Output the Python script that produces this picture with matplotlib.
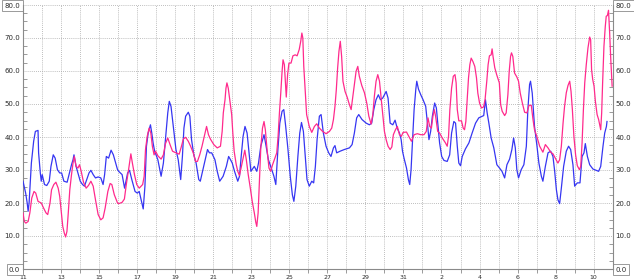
import matplotlib
matplotlib.use("Agg")
import matplotlib.pyplot as plt
from matplotlib.ticker import MultipleLocator, FixedLocator

# ---- data (x = days since Oct 11, 00:00) ----
blue_day = [0.00, 0.14, 0.22, 0.27, 0.32, 0.44, 0.56, 0.65, 0.79, 0.82, 0.91, 0.96, 1.01, 1.13, 1.25,
            1.38, 1.47, 1.59, 1.69, 1.81, 1.93, 2.03, 2.15, 2.32, 2.44, 2.55, 2.63, 2.68, 2.79, 2.89,
            3.01, 3.13, 3.23, 3.35, 3.47, 3.57, 3.69, 3.81, 3.95, 4.09, 4.21, 4.29, 4.38, 4.50, 4.63,
            4.75, 4.85, 4.97, 5.03, 5.21, 5.34, 5.50, 5.60, 5.72, 5.89, 6.01, 6.11, 6.23, 6.32, 6.41,
            6.49, 6.58, 6.70, 6.77, 6.84, 6.92, 7.09, 7.26, 7.38, 7.52, 7.61, 7.69, 7.78, 7.90, 8.04,
            8.16, 8.29, 8.38, 8.46, 8.55, 8.69, 8.77, 8.86, 8.98, 9.10, 9.24, 9.32, 9.44, 9.58, 9.70,
            9.80, 9.92, 10.09, 10.21, 10.34, 10.52, 10.69, 10.81, 10.91, 11.00, 11.12, 11.29, 11.38,
            11.47, 11.57, 11.67, 11.78, 11.90, 11.98, 12.16, 12.29, 12.38, 12.50, 12.67, 12.78, 12.90,
            13.05, 13.19, 13.29, 13.40, 13.50, 13.62, 13.71, 13.81, 13.93, 14.05, 14.16, 14.24, 14.34,
            14.45, 14.55, 14.64, 14.74, 14.84, 14.93, 15.05, 15.18, 15.28, 15.37, 15.46, 15.58, 15.67,
            15.79, 15.93, 16.07, 16.19, 16.32, 16.40, 16.49, 16.67, 16.89, 17.16, 17.30, 17.42, 17.54,
            17.65, 17.82, 18.04, 18.21, 18.33, 18.44, 18.56, 18.68, 18.79, 18.91, 19.00, 19.09, 19.19,
            19.30, 19.44, 19.56, 19.67, 19.79, 19.88, 19.95, 20.03, 20.16, 20.26, 20.33, 20.40, 20.47,
            20.56, 20.65, 20.70, 20.79, 20.91, 21.03, 21.17, 21.26, 21.34, 21.43, 21.52, 21.64, 21.73,
            21.82, 21.90, 22.01, 22.13, 22.30, 22.43, 22.53, 22.65, 22.74, 22.83, 22.91, 23.00, 23.09,
            23.26, 23.44, 23.61, 23.79, 23.96, 24.14, 24.22, 24.31, 24.40, 24.49, 24.61, 24.75, 24.91,
            25.05, 25.18, 25.32, 25.44, 25.58, 25.70, 25.79, 25.88, 25.96, 26.05, 26.19, 26.33, 26.46,
            26.54, 26.63, 26.68, 26.77, 26.89, 27.02, 27.12, 27.25, 27.33, 27.46, 27.60, 27.74, 27.86,
            27.95, 28.04, 28.12, 28.21, 28.30, 28.42, 28.56, 28.68, 28.79, 28.91, 29.00, 29.14, 29.28,
            29.39, 29.49, 29.56, 29.67, 29.79, 29.96, 30.14, 30.26, 30.37, 30.49, 30.58, 30.67, 30.70]
blue_val = [26.6, 23.0, 20.0, 17.5, 20.0, 32.1, 38.7, 41.7, 42.0, 35.2, 29.1, 26.6, 28.6, 25.6, 25.3,
            26.6, 31.1, 34.6, 33.6, 30.1, 29.1, 29.1, 26.6, 26.3, 29.1, 31.6, 33.1, 34.6, 31.1, 29.1,
            26.6, 25.6, 25.1, 27.1, 29.1, 29.9, 28.6, 27.6, 27.9, 27.6, 25.6, 28.6, 34.1, 33.6, 36.0,
            34.6, 32.6, 30.1, 29.6, 28.6, 24.5, 29.1, 29.9, 27.1, 23.5, 23.0, 23.5, 20.5, 18.2, 25.1,
            37.2, 41.2, 43.7, 41.2, 38.2, 35.7, 33.1, 28.1, 32.1, 41.2, 47.3, 50.8, 49.3, 43.2, 36.2,
            33.1, 27.1, 34.1, 42.7, 46.3, 47.5, 46.3, 39.2, 34.6, 32.1, 27.1, 26.6, 29.6, 33.1, 36.2,
            35.2, 35.2, 33.1, 29.6, 26.6, 28.1, 31.1, 34.1, 33.1, 32.1, 29.6, 26.6, 28.1,
            34.1, 40.2, 43.2, 41.2, 34.1, 29.6, 31.1, 29.6, 32.1, 37.2, 40.7, 37.2, 33.1,
            30.6, 28.1, 25.6, 36.2, 44.2, 47.8, 48.3, 43.2, 36.2, 28.1, 22.5, 20.5, 25.1,
            34.1, 41.2, 44.4, 41.7, 34.1, 27.1, 25.1, 26.6, 26.1, 31.1, 39.2, 46.3, 46.8,
            41.2, 37.2, 35.2, 34.1, 36.7, 37.4, 35.2, 35.7, 36.2, 36.7, 37.7, 41.2, 45.8,
            46.8, 45.3, 44.2, 43.7, 44.2, 48.3, 51.3, 52.8, 51.3, 51.8, 52.8, 53.8, 51.8,
            44.2, 43.7, 45.1, 42.7, 41.2, 39.2, 35.7, 33.6, 30.6, 27.1, 25.6, 30.1, 38.2,
            48.3, 54.5, 56.9, 54.5, 52.8, 51.3, 49.3, 44.2, 39.2, 41.7, 46.3, 50.3, 48.8,
            43.2, 38.2, 34.1, 32.9, 32.6, 34.6, 41.2, 44.7, 44.2, 37.2, 32.1, 31.3, 34.1,
            36.4, 38.2, 41.2, 44.2, 45.8, 46.3, 46.5, 51.3, 47.3, 44.2, 39.7, 36.7, 31.6,
            30.6, 29.6, 27.6, 31.6, 33.3, 36.2, 39.7, 36.7, 30.1, 27.6, 30.1, 31.6, 37.2,
            48.3, 55.9, 56.9, 53.3, 43.2, 37.2, 32.1, 28.1, 26.6, 31.1, 35.2, 35.7, 34.1,
            29.6, 24.0, 21.0, 19.8, 24.5, 31.1, 35.7, 37.2, 36.2, 31.6, 25.1, 26.1, 26.1,
            34.1, 35.2, 38.0, 34.1, 31.6, 30.3, 29.9, 29.6, 31.1, 37.2, 41.2, 43.2, 44.7]

pink_day = [0.00, 0.07, 0.15, 0.27, 0.36, 0.46, 0.58, 0.67, 0.79, 0.96, 1.08, 1.21, 1.30, 1.42, 1.50,
            1.62, 1.73, 1.85, 1.93, 2.02, 2.09, 2.17, 2.24, 2.31, 2.38, 2.46, 2.55, 2.63, 2.70, 2.79,
            2.89, 2.97, 3.06, 3.18, 3.32, 3.44, 3.57, 3.69, 3.81, 3.95, 4.09, 4.21, 4.32, 4.46, 4.58,
            4.67, 4.80, 4.97, 5.03, 5.21, 5.33, 5.43, 5.55, 5.67, 5.75, 5.86, 5.98, 6.11, 6.29, 6.37,
            6.44, 6.53, 6.63, 6.72, 6.80, 6.89, 6.97, 7.09, 7.26, 7.38, 7.49, 7.61, 7.73, 7.86, 8.04,
            8.21, 8.33, 8.43, 8.55, 8.69, 8.81, 8.95, 9.07, 9.17, 9.29, 9.41, 9.53, 9.65, 9.75, 9.85,
            10.03, 10.21, 10.38, 10.47, 10.53, 10.62, 10.67, 10.72, 10.79, 10.88, 10.97, 11.03, 11.10,
            11.21, 11.29, 11.38, 11.48, 11.57, 11.66, 11.74, 11.84, 11.95, 12.05, 12.16, 12.24, 12.29,
            12.36, 12.43, 12.50, 12.59, 12.67, 12.74, 12.83, 12.93, 13.02, 13.12, 13.26, 13.34, 13.41,
            13.48, 13.55, 13.62, 13.67, 13.74, 13.79, 13.84, 13.91, 13.98, 14.09, 14.19, 14.31, 14.41,
            14.52, 14.60, 14.66, 14.71, 14.76, 14.83, 14.91, 15.05, 15.18, 15.32, 15.44, 15.58, 15.75,
            15.93, 16.11, 16.23, 16.32, 16.40, 16.47, 16.54, 16.61, 16.68, 16.75, 16.82, 16.93, 17.04,
            17.16, 17.25, 17.33, 17.42, 17.51, 17.60, 17.68, 17.81, 17.95, 18.07, 18.18, 18.30, 18.39,
            18.47, 18.56, 18.65, 18.74, 18.82, 18.91, 19.00, 19.09, 19.19, 19.30, 19.39, 19.47, 19.58,
            19.68, 19.79, 19.89, 19.98, 20.16, 20.30, 20.42, 20.56, 20.73, 20.91, 21.08, 21.20, 21.29,
            21.38, 21.47, 21.55, 21.62, 21.69, 21.80, 21.90, 22.04, 22.21, 22.30, 22.37, 22.44, 22.53,
            22.62, 22.71, 22.77, 22.83, 22.91, 23.05, 23.14, 23.21, 23.28, 23.35, 23.42, 23.49, 23.56,
            23.65, 23.75, 23.84, 23.91, 24.00, 24.10, 24.21, 24.29, 24.38, 24.45, 24.52, 24.61, 24.66,
            24.71, 24.80, 24.90, 25.04, 25.11, 25.19, 25.32, 25.40, 25.49, 25.56, 25.63, 25.68, 25.75,
            25.84, 25.96, 26.05, 26.14, 26.25, 26.37, 26.49, 26.60, 26.72, 26.81, 26.89, 27.02, 27.16,
            27.33, 27.46, 27.60, 27.74, 27.86, 27.98, 28.12, 28.21, 28.30, 28.39, 28.47, 28.56, 28.65,
            28.74, 28.81, 28.88, 28.96, 29.05, 29.14, 29.25, 29.32, 29.39, 29.46, 29.53, 29.61, 29.70,
            29.79, 29.84, 29.89, 29.95, 30.02, 30.09, 30.18, 30.26, 30.37, 30.42, 30.47, 30.54, 30.61,
            30.66, 30.72, 30.78, 30.84, 30.90, 30.97]
pink_val = [17.0, 14.4, 13.9, 14.4, 17.0, 21.5, 23.5, 23.0, 20.5, 20.0, 18.5, 17.0, 16.5, 20.0, 24.0,
            25.6, 26.3, 24.5, 22.0, 17.0, 12.9, 10.9, 9.7, 11.4, 17.0, 24.0, 28.6, 32.1, 34.1, 31.1,
            30.6, 31.6, 29.6, 26.3, 24.5, 25.3, 26.6, 25.1, 21.0, 16.5, 14.9, 15.5, 18.5, 23.5, 25.9,
            25.6, 22.5, 20.0, 19.8, 20.2, 21.2, 25.6, 30.1, 34.9, 32.1, 28.6, 25.6, 24.5, 25.6, 28.1,
            36.2, 40.2, 42.7, 41.2, 37.2, 34.6, 35.7, 34.3, 33.3, 34.6, 38.0, 39.7, 37.7, 35.7, 35.2,
            34.8, 37.2, 39.4, 39.9, 38.7, 37.2, 35.2, 32.6, 32.6, 34.6, 37.2, 40.2, 43.2, 40.7, 39.4,
            37.7, 36.7, 37.2, 41.7, 47.3, 51.3, 54.8, 56.4, 54.8, 50.8, 46.8, 41.2, 35.7,
            31.6, 29.6, 28.3, 31.1, 33.6, 36.0, 33.1, 28.6, 24.5, 20.5, 17.0, 14.1, 12.9,
            17.0, 27.1, 36.7, 42.7, 44.7, 42.2, 36.2, 30.6, 29.6, 31.6, 33.9, 35.2, 40.2,
            47.3, 53.3, 59.9, 63.4, 61.9, 56.9, 52.1, 58.9, 62.4, 62.4, 64.6, 64.9, 64.6,
            66.5, 69.0, 71.5, 70.0, 61.4, 54.8, 46.8, 43.2, 41.4, 43.2, 44.0, 42.7, 41.7,
            41.0, 41.7, 42.7, 45.3, 49.3, 54.3, 60.9, 66.0, 69.0, 64.4, 56.9, 53.8, 52.1,
            49.8, 48.3, 51.8, 55.9, 59.9, 61.4, 58.4, 55.6, 53.4, 50.3, 46.3, 43.9, 46.8,
            52.3, 56.9, 58.9, 56.9, 52.3, 47.3, 41.7, 39.2, 37.2, 36.2, 37.0, 40.7, 42.2,
            43.2, 40.7, 40.2, 41.4, 41.5, 40.0, 38.7, 40.7, 41.0, 40.7, 40.7, 41.7, 45.8,
            43.2, 42.7, 46.3, 48.3, 46.3, 41.7, 41.2, 39.7, 38.2, 37.2, 40.2, 48.3, 54.8,
            58.4, 58.9, 56.4, 48.3, 44.9, 44.9, 42.7, 42.2, 44.7, 51.3, 57.9, 61.9, 63.9,
            62.9, 61.4, 57.9, 53.3, 50.3, 48.8, 49.1, 51.3, 56.9, 61.9, 64.6, 64.9, 66.7,
            64.4, 61.0, 58.9, 56.4, 49.8, 47.8, 46.5, 47.3, 52.8, 59.9, 64.4, 65.5, 64.4,
            59.4, 58.2, 56.9, 53.3, 50.3, 47.5, 47.3, 49.6, 49.6, 45.3, 42.2, 40.0, 37.2,
            35.4, 37.7, 36.7, 35.4, 34.9, 33.6, 32.1, 33.1, 37.2, 44.2, 49.3, 53.4, 55.6,
            56.9, 53.8, 48.3, 40.2, 34.6, 31.3, 30.1, 31.1, 38.2, 48.3, 56.4, 61.9, 67.0,
            70.3, 69.5, 60.4, 57.4, 55.4, 50.8, 46.8, 45.3, 42.2, 47.3, 56.4, 67.5, 73.5,
            76.6, 76.8, 78.4, 71.5, 63.4, 55.4]

x_tick_labels = ["11", "13", "15", "17", "19", "21", "23", "25", "27", "29", "31",
                 "2", "4", "6", "8", "10"]
n_days = 31
y_max = 80

# ---- figure ----
W, H = 634, 280
fig = plt.figure(figsize=(W / 100, H / 100), dpi=100)
fig.patch.set_facecolor("white")
ax = fig.add_axes([23 / W, 11 / H, (612.7 - 23) / W, (269 - 5) / H])

axis_col = "#8a8a8a"
grid_col = "#a8a8a8"
text_col = "#2a2a2a"

ax.plot(blue_day, blue_val, color="#3636f2", lw=0.9, zorder=3)
ax.plot(pink_day, pink_val, color="#ff2a8c", lw=0.9, zorder=3)

ax.set_xlim(0, n_days)
ax.set_ylim(0, y_max)

for s in ["left", "bottom", "right"]:
    ax.spines[s].set_color(axis_col)
    ax.spines[s].set_linewidth(0.8)
ax.spines["top"].set_visible(False)

# x ticks: every day, labels every second day
day_ticks = list(range(0, n_days + 1))
labels = []
for d in day_ticks:
    if d % 2 == 0 and d // 2 < len(x_tick_labels):
        labels.append(x_tick_labels[d // 2])
    else:
        labels.append("")
ax.xaxis.set_major_locator(FixedLocator(day_ticks))
ax.set_xticklabels(labels)
ax.tick_params(axis="x", which="major", direction="out", length=3, width=0.6,
               color=axis_col, labelsize=4.5, labelcolor=text_col, pad=1.5)

# y ticks
ax.yaxis.set_major_locator(MultipleLocator(10))
ax.yaxis.set_minor_locator(MultipleLocator(2.5))
ax.yaxis.set_major_formatter(matplotlib.ticker.FormatStrFormatter("%.1f"))
ax.tick_params(axis="y", which="major", length=0, labelsize=5, labelcolor=text_col,
               left=True, right=True, labelleft=True, labelright=True, pad=2)
ax.tick_params(axis="y", which="minor", direction="in", length=3, width=0.6,
               color=axis_col, left=True, right=True)

ax.grid(True, which="major", linestyle=(0, (1, 1.5)), color=grid_col, lw=0.6, zorder=0)

# boxed extreme labels
fig.canvas.draw()
box = dict(boxstyle="square,pad=0.35", fc="white", ec=axis_col, lw=0.6)
ticks = ax.yaxis.get_major_ticks()
for t in ticks:
    v = t.get_loc()
    if abs(v - 0) < 1e-6 or abs(v - y_max) < 1e-6:
        t.label1.set_bbox(box)
        t.label2.set_bbox(box)

fig.savefig("out.png", dpi=100, facecolor="white")
